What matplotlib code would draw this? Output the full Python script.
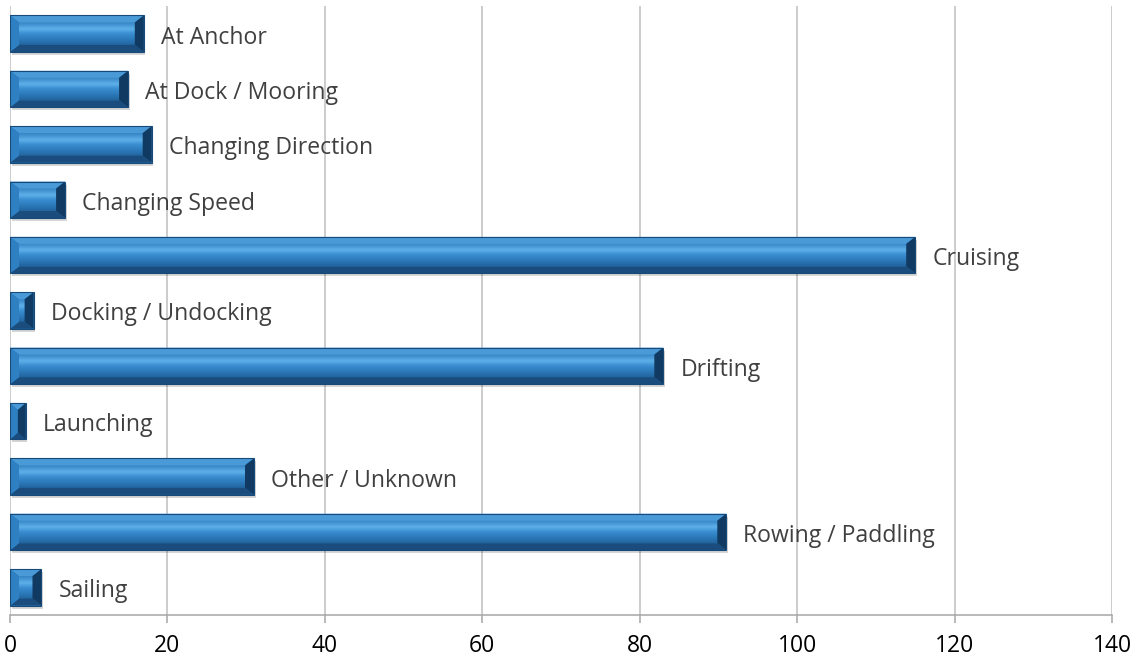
import matplotlib
matplotlib.use("Agg")
import matplotlib.pyplot as plt
import numpy as np
from matplotlib.patches import Polygon, Rectangle
from matplotlib.colors import LinearSegmentedColormap

categories = ["At Anchor", "At Dock / Mooring", "Changing Direction", "Changing Speed",
              "Cruising", "Docking / Undocking", "Drifting", "Launching",
              "Other / Unknown", "Rowing / Paddling", "Sailing"]
values = [17, 15, 18, 7, 115, 3, 83, 2, 31, 91, 4]
xticks = [0, 20, 40, 60, 80, 100, 120, 140]

W, H, DPI = 1137, 660, 100
fig = plt.figure(figsize=(W / DPI, H / DPI), dpi=DPI)
ax_l, ax_r, ax_t, ax_b = 10, 1112, 6, 615
ax = fig.add_axes([ax_l / W, 1 - ax_b / H, (ax_r - ax_l) / W, (ax_b - ax_t) / H])
ax.set_xlim(0, 140)
n = len(categories)
ax.set_ylim(n - 0.5, -0.5)

pos = np.arange(n)
bh = 0.66
bars = ax.barh(pos, values, height=bh, color="#2b7bbb", zorder=3, linewidth=0)

# pixel -> data conversion
px_x = 140 / (ax_r - ax_l)
px_y = n / (ax_b - ax_t)

cmap = LinearSegmentedColormap.from_list(
    "face", [(0.0, "#3583c4"), (0.3, "#5eb0ea"), (0.5, "#3a8ed0"), (0.8, "#2a76b6"), (1.0, "#22659f")])
grad = np.linspace(0, 1, 64).reshape(-1, 1)
for b in bars:
    x0 = b.get_x(); w = b.get_width(); y0 = b.get_y(); h = b.get_height()
    x1 = x0 + w; y1 = y0 + h  # y0 is top (inverted axis), y1 bottom
    bx = min(9 * px_x, w / 2 * 0.999)
    by = 7 * px_y
    # shadow
    ax.add_patch(Rectangle((x0 + 1.5 * px_x, y0 + 3 * px_y), w, h, color="#000000", alpha=0.16,
                           zorder=2, linewidth=0))
    # face gradient
    ax.imshow(grad, extent=(x0 + bx, x1 - bx, y1 - by, y0 + by), aspect="auto", cmap=cmap,
              zorder=4, interpolation="bilinear")
    # top bevel
    ax.add_patch(Polygon([(x0, y0), (x1, y0), (x1 - bx, y0 + by), (x0 + bx, y0 + by)],
                         closed=True, color="#4a9ad8", zorder=5, linewidth=0))
    # bottom bevel
    ax.add_patch(Polygon([(x0, y1), (x1, y1), (x1 - bx, y1 - by), (x0 + bx, y1 - by)],
                         closed=True, color="#1a4d7d", zorder=5, linewidth=0))
    # left bevel
    ax.add_patch(Polygon([(x0, y0), (x0 + bx, y0 + by), (x0 + bx, y1 - by), (x0, y1)],
                         closed=True, color="#2e80c2", zorder=5, linewidth=0))
    # right bevel
    ax.add_patch(Polygon([(x1, y0), (x1 - bx, y0 + by), (x1 - bx, y1 - by), (x1, y1)],
                         closed=True, color="#113a62", zorder=5, linewidth=0))
    # thin outline
    ax.add_patch(Rectangle((x0, y0), w, h, fill=False, edgecolor="#174a78", linewidth=0.8, zorder=6))

for i, v in enumerate(values):
    ax.text(v + 17 * px_x, i + 4 * px_y, categories[i], va="center", ha="left", fontsize=16.6,
            color="#404040", family="Open Sans", zorder=7)

ax.set_xticks(xticks)
ax.set_xticklabels([str(t) for t in xticks], fontsize=16.5, family="Open Sans", color="#000000")
ax.set_yticks([])
ax.grid(axis="x", color="#bfbfbf", linewidth=1.1, zorder=0)
ax.set_axisbelow(True)
for s in ["top", "right", "left"]:
    ax.spines[s].set_visible(False)
ax.spines["bottom"].set_color("#a6a6a6")
ax.spines["bottom"].set_linewidth(1.1)
ax.tick_params(axis="x", length=6, color="#a6a6a6", width=1.1, pad=8)

fig.savefig("out.png", dpi=DPI)
